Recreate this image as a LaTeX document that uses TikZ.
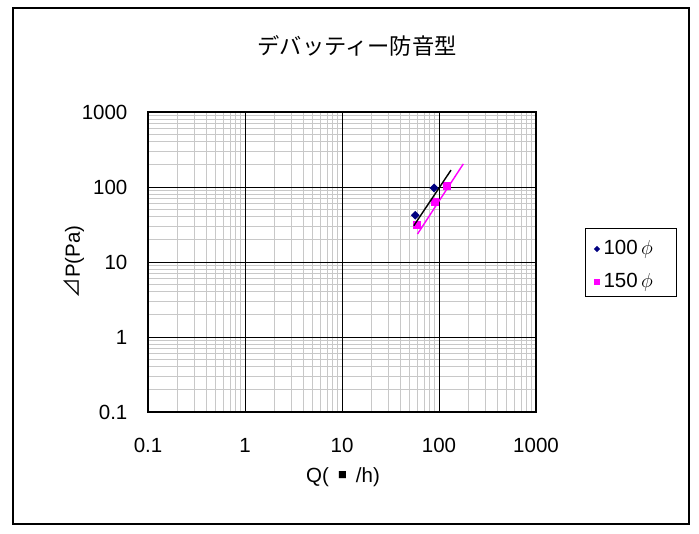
\documentclass[tikz,border=0pt]{standalone}
\usepackage{fontspec}
\setmainfont{Liberation Sans}
\newfontfamily\jpfont{Noto Sans CJK JP}
\newfontfamily\symfont{DejaVu Sans}
\usetikzlibrary{shapes.geometric}
\definecolor{navymark}{RGB}{0,0,128}
\definecolor{pinkmark}{RGB}{255,0,255}
\definecolor{minorgray}{RGB}{200,200,200}
\tikzset{
  lbl/.style={font=\fontsize{17.5}{20}\selectfont},
  bluemark/.style={diamond,fill=navymark,inner sep=0pt,minimum size=0.27cm},
  pinkbox/.style={rectangle,fill=pinkmark,inner sep=0pt,minimum size=0.24cm},
}
\begin{document}
\begin{tikzpicture}
  \useasboundingbox (-4.44,-3.63) rectangle (16.53,12.36);
  \draw[line width=1pt] (-4.05,-3.36) rectangle (16.23,12.12);
  \node[font=\jpfont\fontsize{19}{22}\selectfont] (title) at (6.27,10.98) {デバッティー防音型};
  \begin{scope}[x=2.91cm,y=2.25cm]
    \foreach \d in {0,...,3}
      \foreach \k in {2,...,9} {
        \draw[minorgray,line width=0.7pt] ({\d+log10(\k)},0) -- ++(0,4);
        \draw[minorgray,line width=0.7pt] (0,{\d+log10(\k)}) -- ++(4,0);
      }
    \foreach \d in {1,2,3} {
      \draw[line width=0.7pt] (\d,0) -- (\d,4);
      \draw[line width=0.7pt] (0,\d) -- (4,\d);
    }
    \draw[line width=1.6pt] (0,0) rectangle (4,4);
    \foreach \d/\lab in {0/0.1,1/1,2/10,3/100,4/1000} {
      \node[lbl] (xt\d) at (\d,-0.44) {\lab};
      \node[lbl,anchor=east] (yt\d) at (-0.17,\d) {\lab};
    }
    \node[bluemark] (b1) at ({log10(57)+1},{log10(42)+1}) {};
    \node[bluemark] (b2) at ({log10(89)+1},{log10(97)+1}) {};
    \node[pinkbox] (p1) at ({log10(60)+1},{log10(31)+1}) {};
    \node[pinkbox] (p2) at ({log10(91)+1},{log10(62.5)+1}) {};
    \node[pinkbox] (p3) at ({log10(120)+1},{log10(104)+1}) {};
    \coordinate (bfitA) at ({log10(55)+1},{log10(30.5)+1});
    \coordinate (bfitB) at ({log10(133)+1},{log10(168)+1});
    \coordinate (pfitA) at ({log10(60)+1},{log10(23.6)+1});
    \coordinate (pfitB) at ({log10(178)+1},{log10(203)+1});
    \draw[line width=1.2pt] (bfitA) -- (bfitB);
    \draw[pinkmark,line width=1.2pt] (pfitA) -- (pfitB);
  \end{scope}
  \node[lbl] (xlab) at (5.85,-1.95) {Q(\, \raisebox{0.45ex}{\symfont\fontsize{8}{10}\selectfont ■}\, /h)};
  \node[lbl,rotate=90] (ylab) at (-2.22,4.5) {{\jpfont ⊿}P(Pa)};
  \node[draw,line width=0.8pt,minimum width=2.73cm,minimum height=2.04cm] (legend) at (14.475,4.5) {};
  \node[bluemark,minimum size=0.2cm] (lm1) at (13.47,4.89) {};
  \node[pinkbox,minimum size=0.18cm] (lm2) at (13.47,3.9) {};
  \node[lbl,anchor=west,inner sep=0pt] (lt1) at (13.66,4.89) {100\,$\phi$};
  \node[lbl,anchor=west,inner sep=0pt] (lt2) at (13.66,3.9) {150\,$\phi$};
\end{tikzpicture}
\end{document}
